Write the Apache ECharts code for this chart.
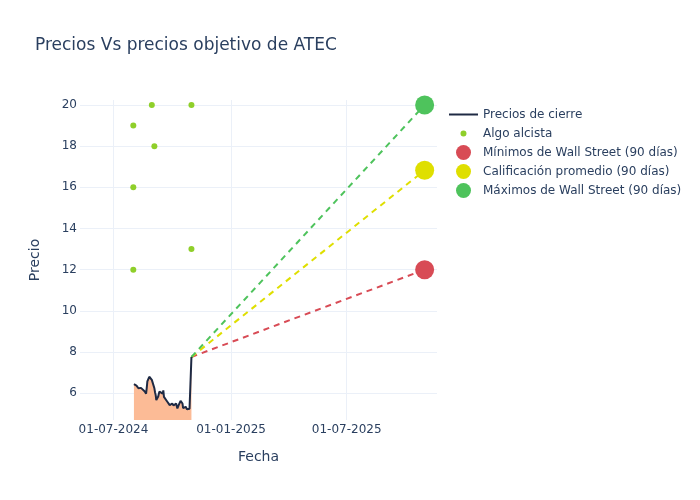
<!DOCTYPE html>
<html>
<head>
<meta charset="utf-8">
<script src="https://cdn.jsdelivr.net/npm/echarts@6/dist/echarts.min.js"></script>
<style>html,body{margin:0;padding:0;background:#fff}#c{width:700px;height:500px}</style>
</head>
<body>
<div id="c"></div>
<script>
var priceDates = ['2024-08-02','2024-08-05','2024-08-06','2024-08-07','2024-08-08','2024-08-09','2024-08-12','2024-08-13','2024-08-14','2024-08-15','2024-08-16','2024-08-19','2024-08-20','2024-08-21','2024-08-22','2024-08-23','2024-08-26','2024-08-27','2024-08-28','2024-08-29','2024-08-30','2024-09-03','2024-09-04','2024-09-05','2024-09-06','2024-09-09','2024-09-10','2024-09-11','2024-09-12','2024-09-13','2024-09-16','2024-09-17','2024-09-18','2024-09-19','2024-09-20','2024-09-23','2024-09-24','2024-09-25','2024-09-26','2024-09-27','2024-09-30','2024-10-01','2024-10-02','2024-10-03','2024-10-04','2024-10-07','2024-10-08','2024-10-09','2024-10-10','2024-10-11','2024-10-14','2024-10-15','2024-10-16','2024-10-17','2024-10-18','2024-10-21','2024-10-22','2024-10-23','2024-10-24','2024-10-25','2024-10-28','2024-10-29','2024-10-30','2024-10-31'];
var priceValues = [6.44,6.53,6.37,6.42,6.35,6.24,6.33,6.26,6.18,6.27,6.22,6.08,6.02,5.98,6.25,6.57,6.80,6.88,6.84,6.80,6.65,6.24,6.05,5.92,5.67,5.84,5.98,6.08,6.16,6.12,5.98,6.14,5.82,5.78,5.74,5.60,5.58,5.62,5.55,5.42,5.45,5.50,5.48,5.40,5.34,5.50,5.38,5.26,5.33,5.42,5.63,5.58,5.55,5.50,5.28,5.20,5.34,5.30,5.22,5.17,5.25,5.28,5.30,7.76];
var bullDates = ['2024-08-01','2024-08-01','2024-08-01','2024-08-30','2024-09-03','2024-10-31','2024-10-31'];
var bullValues = [19,16,12,20,18,20,13];
var targetDate = '2025-10-31';
var targetLow = 12;
var targetAvg = 16.83;
var targetHigh = 20;
var seriesNames = ['Precios de cierre','Algo alcista','Mínimos de Wall Street (90 días)','Calificación promedio (90 días)','Máximos de Wall Street (90 días)'];

var FONT = 'DejaVu Sans';
var TXT = '#2a3f5f';
var GRID = '#ebf0f8';
var C_LINE = '#1f2a44', C_FILL = '#fcbb96', C_BULL = '#8fcf2a', C_RED = '#d84b55', C_YEL = '#dfdf00', C_GRN = '#4ec35c';

var lastDate = priceDates[priceDates.length-1];
var lastVal = priceValues[priceValues.length-1];

function pad(n){return (n<10?'0':'')+n;}
var smallDot = 'path://M0,0M29,15M14.5,4.5A3,3,0,1,1,14.49,4.5Z';
var lineIcon = 'path://M0,0M29,15M0,6.5H29V8.5H0Z';

var chart = echarts.init(document.getElementById('c'), null, {renderer:'canvas'});
chart.setOption({
  animation: false,
  backgroundColor: '#fff',
  textStyle: {fontFamily: FONT},
  title: {text: 'Precios Vs precios objetivo de ATEC', left: 30, top: 32,
    textStyle: {fontFamily: FONT, fontSize: 17, fontWeight: 'normal', color: TXT}},
  legend: {
    orient: 'vertical', left: 444, top: 102, itemWidth: 29, itemHeight: 15, itemGap: 4,
    textStyle: {fontFamily: FONT, fontSize: 12, color: TXT},
    data: [
      {name: seriesNames[0], icon: lineIcon, itemStyle: {color: C_LINE, borderWidth: 0}},
      {name: seriesNames[1], icon: smallDot, itemStyle: {color: C_BULL, borderWidth: 0}},
      {name: seriesNames[2], icon: 'circle', itemStyle: {color: C_RED, borderWidth: 0}},
      {name: seriesNames[3], icon: 'circle', itemStyle: {color: C_YEL, borderWidth: 0}},
      {name: seriesNames[4], icon: 'circle', itemStyle: {color: C_GRN, borderWidth: 0}}
    ]
  },
  grid: {left: 80, right: 263, top: 100, bottom: 80, containLabel: false},
  xAxis: {
    type: 'time', min: '2024-05-09 14:00:00', max: '2025-11-19 08:00:00',
    splitNumber: 3, minInterval: 182.5*86400000, maxInterval: 182.5*86400000,
    name: 'Fecha', nameLocation: 'middle', nameGap: 30,
    nameTextStyle: {fontFamily: FONT, fontSize: 14, color: TXT},
    axisLine: {show: false}, axisTick: {show: false},
    axisLabel: {fontFamily: FONT, fontSize: 12, color: TXT, margin: 4, showMinLabel: false, showMaxLabel: false,
      formatter: function(v){var d=new Date(v);return pad(d.getDate())+'-'+pad(d.getMonth()+1)+'-'+d.getFullYear();}},
    splitLine: {show: true, showMinLine: false, showMaxLine: false, lineStyle: {color: GRID, width: 1}}
  },
  yAxis: {
    type: 'value', min: 4.70, max: 20.24, minInterval: 2, maxInterval: 2,
    name: 'Precio', nameLocation: 'middle', nameGap: 38,
    nameTextStyle: {fontFamily: FONT, fontSize: 14, color: TXT},
    axisLine: {show: false}, axisTick: {show: false},
    axisLabel: {fontFamily: FONT, fontSize: 12, color: TXT, margin: 3, showMinLabel: false, showMaxLabel: false},
    splitLine: {show: true, showMinLine: false, showMaxLine: false, lineStyle: {color: GRID, width: 1}}
  },
  series: [
    {name: seriesNames[0], type: 'line', symbol: 'none', z: 3,
     data: priceDates.map(function(d,i){return [d, priceValues[i]];}),
     lineStyle: {color: C_LINE, width: 2}, itemStyle: {color: C_LINE},
     areaStyle: {color: C_FILL, opacity: 1, origin: 'start'}},
    {type: 'line', symbol: 'none', z: 2, data: [[lastDate, lastVal],[targetDate, targetLow]],
     lineStyle: {color: C_RED, width: 2, type: [6,5]}},
    {type: 'line', symbol: 'none', z: 2, data: [[lastDate, lastVal],[targetDate, targetAvg]],
     lineStyle: {color: C_YEL, width: 2, type: [6,5]}},
    {type: 'line', symbol: 'none', z: 2, data: [[lastDate, lastVal],[targetDate, targetHigh]],
     lineStyle: {color: C_GRN, width: 2, type: [6,5]}},
    {name: seriesNames[1], type: 'scatter', symbolSize: 6, z: 4,
     data: bullDates.map(function(d,i){return [d, bullValues[i]];}), itemStyle: {color: C_BULL, opacity: 1}},
    {name: seriesNames[2], type: 'scatter', symbolSize: 19, z: 5, data: [[targetDate, targetLow]], itemStyle: {color: C_RED, opacity: 1}},
    {name: seriesNames[3], type: 'scatter', symbolSize: 19, z: 5, data: [[targetDate, targetAvg]], itemStyle: {color: C_YEL, opacity: 1}},
    {name: seriesNames[4], type: 'scatter', symbolSize: 19, z: 5, data: [[targetDate, targetHigh]], itemStyle: {color: C_GRN, opacity: 1}}
  ]
});
</script>
</body>
</html>
